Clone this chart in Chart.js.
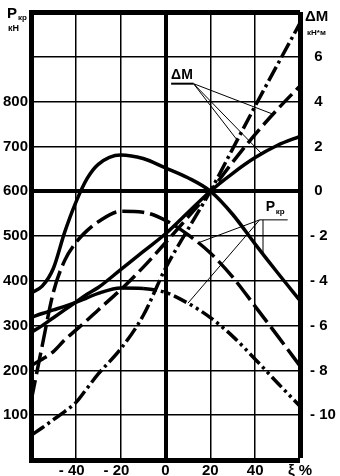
<!DOCTYPE html>
<html>
<head>
<meta charset="utf-8">
<script src="https://cdn.jsdelivr.net/npm/chart.js@4.4.0/dist/chart.umd.min.js"></script>
<style>
  html, body { margin: 0; padding: 0; background: #fff; }
  #wrap { width: 340px; height: 476px; }
</style>
</head>
<body>
<div id="wrap"><canvas id="grafico"></canvas></div>
<script>
// ξ, %
const XI = [-60, -55, -50, -45, -40, -35, -30, -20, -10, 0, 10, 20, 30, 40, 50, 60];

// Pкр, кН (левая ось)
const pkrSolid = [373, 388, 428, 508, 575, 628, 660, 681, 673, 652, 630, 600, 548, 482, 418, 356];
const pkrDash  = [130, 255, 375, 445, 485, 512, 532, 555, 553, 535, 503, 462, 408, 343, 277, 210];
const pkrDot   = [318, 327, 335, 343, 352, 362, 372, 384, 383, 374, 350, 318, 276, 225, 172, 120];

// ΔM, кН*м (правая ось)
const dmSolid   = [-6.3, -6.0, -5.65, -5.3, -4.95, -4.6, -4.3, -3.5, -2.7, -1.9, -0.95, 0, 0.8, 1.5, 2.05, 2.45];
const dmDash    = [-7.78, -7.5, -7.16, -6.64, -6.2, -5.76, -5.3, -4.4, -3.4, -2.3, -1.16, 0, 1.3, 2.54, 3.66, 4.7];
const dmDashDot = [-10.9, -10.56, -10.2, -9.84, -9.44, -8.8, -8.16, -7.04, -5.56, -3.44, -1.7, 0, 1.9, 3.8, 5.66, 7.5];

// подписи делений
const xTickLabels  = ['', '- 40  ', '- 20  ', '0', '20', '40', 'ξ %'];
const pTickLabels  = ['', '100', '200', '300', '400', '500', '600', '700', '800', '', ''];
const dmTickLabels = ['', '- 10', '- 8', '- 6', '- 4', '- 2', ' 0', ' 2', ' 4', ' 6', ''];

const FONT = '"Liberation Sans", Arial, sans-serif';
const tickFont = { family: FONT, size: 15, weight: 'bold' };

const pontos = arr => XI.map((x, i) => ({ x, y: arr[i] }));

function interp(arr, xi) {
    for (let i = 1; i < XI.length; i++) {
        if (xi <= XI[i]) {
            const t = (xi - XI[i - 1]) / (XI[i] - XI[i - 1]);
            return arr[i - 1] + t * (arr[i] - arr[i - 1]);
        }
    }
    return arr[arr.length - 1];
}

const linha = (data, yAxisID, dash, extra) => Object.assign({
    data: pontos(data), yAxisID, borderColor: '#000', borderWidth: 3.5,
    borderDash: dash, pointRadius: 0, fill: false, cubicInterpolationMode: 'monotone'
}, extra || {});

// подписи и выноски
const anotacoes = {
    id: 'anotacoes',
    afterDraw(chart) {
        const { ctx, scales: { x, y, y2 } } = chart;
        ctx.save();
        ctx.fillStyle = '#000';
        ctx.strokeStyle = '#000';

        // заголовки осей
        ctx.font = `bold 15px ${FONT}`;
        ctx.fillText('P', 7, 18);
        ctx.font = `bold 8px ${FONT}`;
        ctx.fillText('кр', 18, 20);
        ctx.font = `bold 9px ${FONT}`;
        ctx.fillText('кН', 8, 31);

        ctx.font = `bold 15px ${FONT}`;
        ctx.fillText('ΔM', 305, 21);
        ctx.font = `bold 8px ${FONT}`;
        ctx.fillText('кН*м', 307, 35);

        // ΔM внутри поля
        const ax = x.getPixelForValue(2.5), ay = y2.getPixelForValue(4.8);
        const bx = x.getPixelForValue(12.5);
        ctx.font = `bold 14px ${FONT}`;
        ctx.fillText('ΔM', ax, ay - 5);
        ctx.lineWidth = 2;
        ctx.beginPath(); ctx.moveTo(ax, ay); ctx.lineTo(bx, ay); ctx.stroke();
        ctx.lineWidth = 1;
        [[dmDash, 48], [dmDashDot, 32], [dmSolid, 43]].forEach(([arr, xi]) => {
            ctx.beginPath();
            ctx.moveTo(bx, ay);
            ctx.lineTo(x.getPixelForValue(xi), y2.getPixelForValue(interp(arr, xi)));
            ctx.stroke();
        });

        // Pкр внутри поля
        const px = x.getPixelForValue(42), py = y.getPixelForValue(536);
        const qx = x.getPixelForValue(54.5);
        ctx.font = `bold 14px ${FONT}`;
        ctx.fillText('P', px + 6, py - 9);
        ctx.font = `bold 8px ${FONT}`;
        ctx.fillText('кр', px + 16, py - 6);
        ctx.lineWidth = 1;
        ctx.beginPath(); ctx.moveTo(px, py); ctx.lineTo(qx, py); ctx.stroke();
        [[pkrDash, 14.5], [pkrDot, 10]].forEach(([arr, xi]) => {
            ctx.beginPath();
            ctx.moveTo(px, py);
            ctx.lineTo(x.getPixelForValue(xi), y.getPixelForValue(interp(arr, xi)));
            ctx.stroke();
        });
        const vx = x.getPixelForValue(43.5);
        ctx.beginPath();
        ctx.moveTo(vx, py);
        ctx.lineTo(vx, y.getPixelForValue(interp(pkrSolid, 43.5)));
        ctx.stroke();

        ctx.restore();
    }
};

new Chart(document.getElementById('grafico').getContext('2d'), {
    type: 'line',
    data: {
        datasets: [
            linha(pkrSolid, 'y', []),
            linha(pkrDash, 'y', [22, 6]),
            linha(pkrDot, 'y', [], {
                segment: { borderDash: c => c.p0.parsed.x >= -10 ? [14, 4, 3, 4, 3, 4] : undefined }
            }),
            linha(dmSolid, 'y2', []),
            linha(dmDash, 'y2', [18, 6]),
            linha(dmDashDot, 'y2', [16, 4, 3, 4])
        ]
    },
    options: {
        responsive: true,
        maintainAspectRatio: false,
        animation: false,
        layout: { padding: { top: 12, left: 0, right: 0, bottom: 0 } },
        plugins: { legend: { display: false }, tooltip: { enabled: false } },
        scales: {
            x: {
                type: 'linear', min: -60, max: 60,
                ticks: {
                    stepSize: 20, autoSkip: false, maxRotation: 0, padding: 2,
                    color: '#000', font: tickFont,
                    callback: (v, i) => xTickLabels[i]
                },
                grid: {
                    color: '#000', drawTicks: false,
                    lineWidth: c => c.tick.value === -60 ? 0 : c.tick.value === 60 ? 5 : c.tick.value === 0 ? 4 : 1.5
                },
                border: { color: '#000', width: 5 },
                afterFit: s => { s.height = 16; }
            },
            y: {
                type: 'linear', position: 'left', min: 0, max: 1000,
                ticks: {
                    stepSize: 100, padding: 3, color: '#000', font: tickFont,
                    callback: (v, i) => pTickLabels[i]
                },
                grid: {
                    color: '#000', drawTicks: false,
                    lineWidth: c => c.tick.value === 0 ? 0 : c.tick.value === 1000 ? 5 : c.tick.value === 600 ? 4 : 1.5
                },
                border: { color: '#000', width: 5 },
                afterFit: s => { s.width = 31; }
            },
            y2: {
                type: 'linear', position: 'right', min: -12, max: 8,
                ticks: {
                    stepSize: 2, padding: 2, color: '#000', font: tickFont,
                    callback: (v, i) => dmTickLabels[i]
                },
                grid: { display: false },
                border: { display: false },
                afterFit: s => { s.width = 40; }
            }
        }
    },
    plugins: [anotacoes]
});
</script>
</body>
</html>
